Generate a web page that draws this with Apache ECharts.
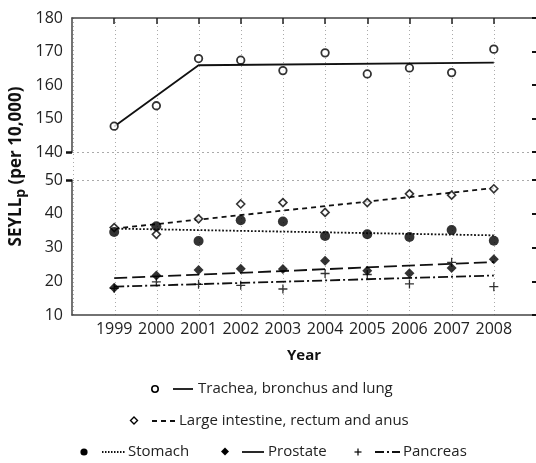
<!DOCTYPE html>
<html><head><meta charset="utf-8">
<script src="https://cdn.jsdelivr.net/npm/echarts@6/dist/echarts.min.js"></script>
<style>html,body{margin:0;padding:0;background:#fff}#c{width:536px;height:463px}</style>
</head><body><div id="c"></div>
<script>
var years = [1999, 2000, 2001, 2002, 2003, 2004, 2005, 2006, 2007, 2008];
var trachea = [147.7, 153.8, 167.9, 167.4, 164.3, 169.6, 163.3, 165.1, 163.7, 170.7];
var tracheaFitX = [1999, 2001, 2008];
var tracheaFitY = [147.6, 165.9, 166.7];
var largeInt = [35.9, 33.9, 38.5, 42.9, 43.3, 40.4, 43.3, 45.9, 45.5, 47.4];
var largeIntFit = [35.6, 47.6];
var stomach = [34.6, 36.3, 31.9, 38.1, 37.7, 33.4, 33.9, 33.1, 35.2, 32.0];
var stomachFit = [35.6, 33.6];
var prostate = [18.1, 21.7, 23.3, 23.7, 23.6, 26.1, 23.1, 22.4, 23.9, 26.5];
var prostateFit = [20.9, 25.7];
var pancreas = [17.9, 19.8, 19.1, 18.8, 17.7, 22.3, 22.0, 19.2, 25.6, 18.4];
var pancreasFit = [18.4, 21.7];
var topTicks = [140, 150, 160, 170, 180];
var bottomTicks = [10, 20, 30, 40, 50];
var names = ['Trachea, bronchus and lung', 'Large intestine, rectum and anus', 'Stomach', 'Prostate', 'Pancreas'];

function pts(ys) { return years.map(function (y, i) { return [y, ys[i]]; }); }
function fit(ys) { return [[years[0], ys[0]], [years[years.length - 1], ys[1]]]; }

var FONT = 'Open Sans';
var PLUS = 'path://M0,5L10,5M5,0L5,10';
var L = 72, W = 465;

var chart = echarts.init(document.getElementById('c'));
var grid = [
  {left: L, width: W, top: 18, height: 134},
  {left: L, width: W, top: 180, height: 135},
  {left: L, width: W, top: 18, height: 297}
];
var xBase = {type: 'value', min: 1998, max: 2009, interval: 1};
var option = {
  animation: false,
  backgroundColor: '#fff',
  grid: grid,
  xAxis: [
    Object.assign({}, xBase, {gridIndex: 0, position: 'top',
      axisLine: {show: true, lineStyle: {color: '#444', width: 1.5}},
      axisTick: {show: true, inside: true, length: 6, customValues: years, lineStyle: {color: '#222', width: 1.5}},
      axisLabel: {show: false}, splitLine: {show: false}}),
    Object.assign({}, xBase, {gridIndex: 1, position: 'bottom',
      name: 'Year', nameLocation: 'middle', nameGap: 33,
      nameTextStyle: {fontFamily: FONT, fontSize: 15, fontWeight: 'bold', color: '#111'},
      axisLine: {show: true, lineStyle: {color: '#444', width: 1.5}},
      axisTick: {show: false},
      axisLabel: {show: true, customValues: years, fontFamily: FONT, fontSize: 16, color: '#222', margin: 6,
        formatter: function (v) { return String(v); }},
      splitLine: {show: false}}),
    Object.assign({}, xBase, {gridIndex: 2, position: 'bottom',
      axisLine: {show: false}, axisTick: {show: false}, axisLabel: {show: false},
      splitLine: {show: true, lineStyle: {color: '#aaa', type: [1, 3], width: 1}}})
  ],
  yAxis: [
    {type: 'value', gridIndex: 0, min: 140, max: 180, interval: 10,
      axisLine: {show: true, lineStyle: {color: '#444', width: 1.5}},
      axisTick: {show: true, customValues: [140], length: 6, lineStyle: {color: '#111', width: 2.5}},
      axisLabel: {fontFamily: FONT, fontSize: 16, color: '#222', margin: 9, customValues: topTicks},
      splitLine: {show: true, lineStyle: {color: '#aaa', type: [2, 3], width: 1}}},
    {type: 'value', gridIndex: 1, min: 10, max: 50, interval: 10,
      axisLine: {show: true, lineStyle: {color: '#444', width: 1.5}},
      axisTick: {show: true, customValues: [50], length: 6, lineStyle: {color: '#111', width: 2.5}},
      axisLabel: {fontFamily: FONT, fontSize: 16, color: '#222', margin: 9, customValues: bottomTicks},
      splitLine: {show: true, lineStyle: {color: '#aaa', type: [2, 3], width: 1}}},
    {type: 'value', gridIndex: 0, min: 140, max: 180, interval: 10, position: 'right',
      axisLine: {show: false}, axisLabel: {show: false}, splitLine: {show: false},
      axisTick: {show: true, inside: true, length: 4, lineStyle: {color: '#111', width: 2}}},
    {type: 'value', gridIndex: 1, min: 10, max: 50, interval: 10, position: 'right',
      axisLine: {show: false}, axisLabel: {show: false}, splitLine: {show: false},
      axisTick: {show: true, inside: true, length: 4, lineStyle: {color: '#111', width: 2}}},
    {type: 'value', gridIndex: 2, min: 0, max: 1,
      name: '{a|SEYLL}{b|p}{a| (per 10,000)}', nameLocation: 'middle', nameGap: 45, nameRotate: 90,
      nameTextStyle: {rich: {
        a: {fontFamily: FONT, fontSize: 17, fontWeight: 'bold', color: '#111'},
        b: {fontFamily: FONT, fontSize: 14, fontWeight: 'bold', color: '#111', verticalAlign: 'bottom', padding: [9, 0, 0, 0]}}},
      axisLine: {show: false}, axisTick: {show: false}, axisLabel: {show: false}, splitLine: {show: false}}
  ],
  series: [
    {type: 'line', xAxisIndex: 0, yAxisIndex: 0, data: tracheaFitX.map(function (x, i) { return [x, tracheaFitY[i]]; }),
      symbol: 'none', lineStyle: {color: '#111', width: 1.8}, z: 3},
    {type: 'scatter', xAxisIndex: 0, yAxisIndex: 0, data: pts(trachea), symbol: 'circle', symbolSize: 7.5,
      itemStyle: {color: '#fff', borderColor: '#000', borderWidth: 1.8}, z: 5},

    {type: 'line', xAxisIndex: 1, yAxisIndex: 1, data: fit(largeIntFit), symbol: 'none',
      lineStyle: {color: '#111', width: 1.8, type: [5, 4]}, z: 3},
    {type: 'line', xAxisIndex: 1, yAxisIndex: 1, data: fit(stomachFit), symbol: 'none',
      lineStyle: {color: '#111', width: 1.8, type: [1.8, 1.8]}, z: 3},
    {type: 'line', xAxisIndex: 1, yAxisIndex: 1, data: fit(prostateFit), symbol: 'none',
      lineStyle: {color: '#111', width: 1.8, type: [13, 5]}, z: 3},
    {type: 'line', xAxisIndex: 1, yAxisIndex: 1, data: fit(pancreasFit), symbol: 'none',
      lineStyle: {color: '#111', width: 1.8, type: [10, 3, 2, 3]}, z: 3},

    {type: 'scatter', xAxisIndex: 1, yAxisIndex: 1, data: pts(largeInt), symbol: 'diamond', symbolSize: 8,
      itemStyle: {color: '#fff', borderColor: '#000', borderWidth: 1.6}, z: 5},
    {type: 'scatter', xAxisIndex: 1, yAxisIndex: 1, data: pts(stomach), symbol: 'circle', symbolSize: 10,
      itemStyle: {color: '#000'}, z: 5},
    {type: 'scatter', xAxisIndex: 1, yAxisIndex: 1, data: pts(prostate), symbol: 'diamond', symbolSize: 10,
      itemStyle: {color: '#000'}, z: 5},
    {type: 'scatter', xAxisIndex: 1, yAxisIndex: 1, data: pts(pancreas), symbol: PLUS, symbolSize: 9,
      itemStyle: {color: 'transparent', borderColor: '#000', borderWidth: 1.3}, z: 6}
  ],
  graphic: []
};

// legend (decoration)
var g = [];
function txt(x, y, s) { g.push({type: 'text', x: x, y: y, style: {text: s, font: '15px "Open Sans"', fill: '#222', verticalAlign: 'middle', align: 'left'}}); }
function seg(x1, x2, y, dash) { g.push({type: 'line', shape: {x1: x1, y1: y, x2: x2, y2: y}, style: {stroke: '#111', lineWidth: 1.8, lineDash: dash || null}}); }
// row 1
g.push({type: 'circle', shape: {cx: 155, cy: 389, r: 3.2}, style: {fill: '#fff', stroke: '#000', lineWidth: 1.6}});
seg(173, 193, 389); txt(198, 389, names[0]);
// row 2
g.push({type: 'polygon', shape: {points: [[134, 417], [137.5, 420.5], [134, 424], [130.5, 420.5]]}, style: {fill: '#fff', stroke: '#000', lineWidth: 1.4}});
seg(152, 177, 421, [5, 4]); txt(179, 421, names[1]);
// row 3
g.push({type: 'circle', shape: {cx: 84, cy: 452, r: 3.6}, style: {fill: '#000'}});
seg(102, 125, 452, [1.5, 1.5]); txt(128, 452, names[2]);
g.push({type: 'polygon', shape: {points: [[225, 447.5], [229, 451.5], [225, 455.5], [221, 451.5]]}, style: {fill: '#000'}});
seg(242, 264, 452); txt(268, 452, names[3]);
g.push({type: 'line', shape: {x1: 354.5, y1: 452, x2: 361.5, y2: 452}, style: {stroke: '#000', lineWidth: 1.2}});
g.push({type: 'line', shape: {x1: 358, y1: 448.5, x2: 358, y2: 455.5}, style: {stroke: '#000', lineWidth: 1.2}});
seg(375, 400, 452, [9, 3, 2, 3]); txt(403, 452, names[4]);
option.graphic = g;

chart.setOption(option);
</script></body></html>
